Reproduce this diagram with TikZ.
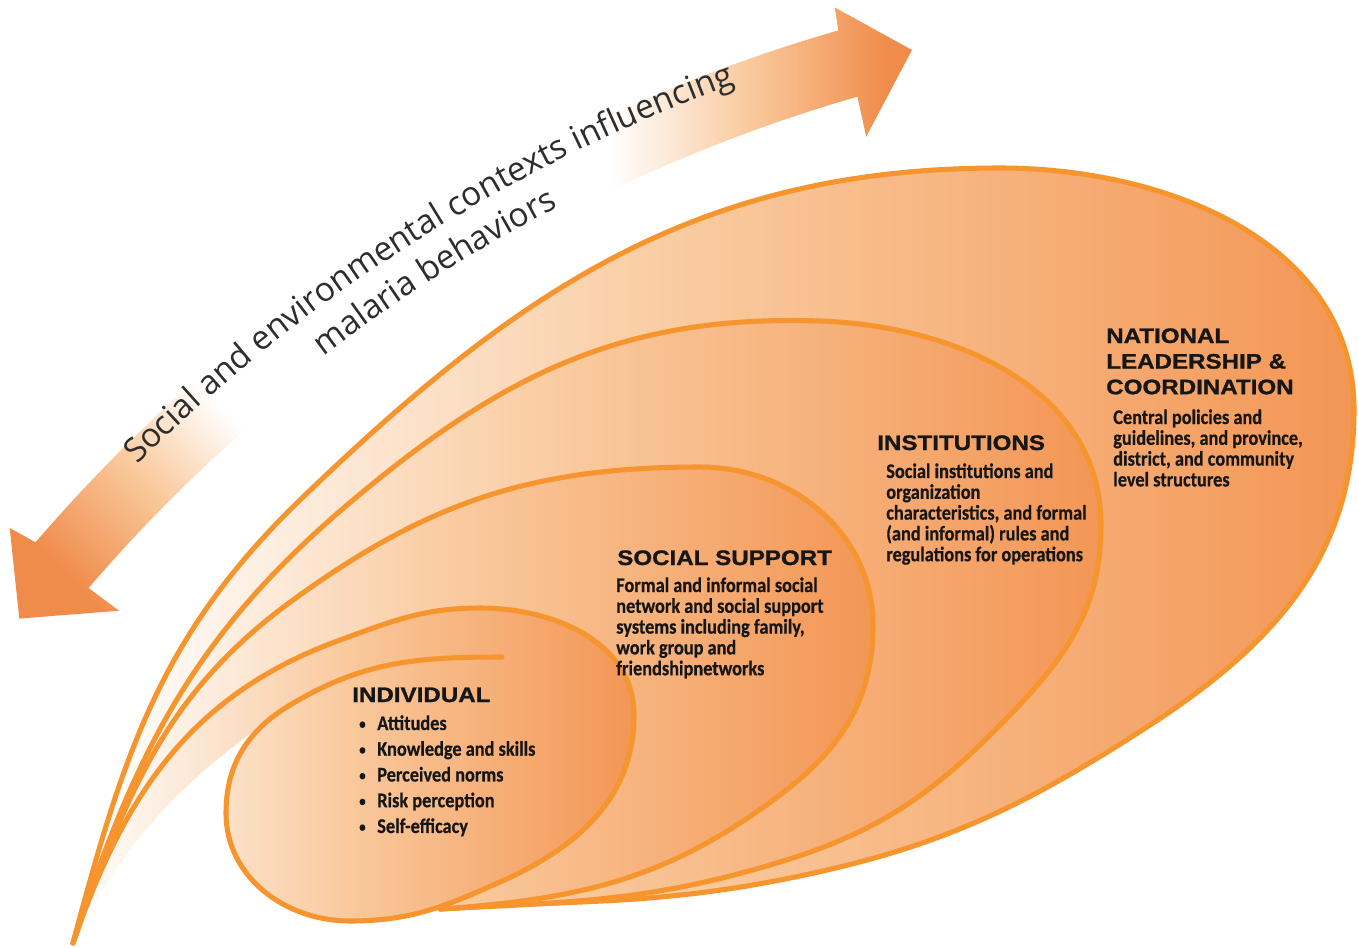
\documentclass[tikz,border=0pt]{standalone}
\usepackage{fontspec}
\usepackage{graphicx}
\usetikzlibrary{decorations.text}

% fonts
\newfontfamily\headfont[FakeStretch=1.15, FakeBold=1.2]{Liberation Sans}
\newfontfamily\bodyfont[FakeStretch=0.88, FakeBold=0.5]{Carlito}
\newfontfamily\arcfont{Open Sans}

% colours
\definecolor{swline}{RGB}{246,148,45}
\definecolor{swmid}{RGB}{249,200,155}
\definecolor{swdark}{RGB}{243,150,85}
\definecolor{arrdark}{RGB}{240,140,75}
\definecolor{ink}{RGB}{22,22,22}
\definecolor{arcink}{RGB}{45,45,45}

% gradients
\pgfdeclarehorizontalshading{swoosh}{100bp}{color(0bp)=(white); color(25bp)=(white); color(50bp)=(swmid); color(75bp)=(swdark); color(100bp)=(swdark)}
\pgfdeclarehorizontalshading{arrowright}{100bp}{color(0bp)=(white); color(39bp)=(white); color(56bp)=(swmid); color(72bp)=(arrdark); color(100bp)=(arrdark)}
\pgfdeclareverticalshading{arrowleft}{100bp}{color(0bp)=(arrdark); color(26bp)=(arrdark); color(46bp)=(swmid); color(64bp)=(white); color(100bp)=(white)}

\newcommand{\bul}{\makebox[13.5pt][l]{\raisebox{0.12ex}{\scalebox{0.7}{\textbullet}}}}

\begin{document}
\begin{tikzpicture}[x=0.75pt,y=-0.75pt,
  swedge/.style={draw=swline, line width=3.8pt, line cap=round, line join=round},
  swfill/.style={shading=swoosh},
  head/.style={anchor=base west, inner sep=0pt, text=ink,
    font=\headfont\bfseries\fontsize{15.75}{19.2}\selectfont},
  body/.style={anchor=base west, inner sep=0pt, text=ink,
    font=\bodyfont\bfseries\fontsize{15.6}{15.6}\selectfont},
  listbody/.style={anchor=base west, inner sep=0pt, text=ink,
    font=\bodyfont\bfseries\fontsize{15.6}{19.3}\selectfont},
  arctext/.style={decorate, decoration={text along path, text align=center,
    text={|\arcfont\fontsize{25}{30}\selectfont\color{arcink}|#1}}}
]
\useasboundingbox (0,0) rectangle (1359,947);
\coordinate (tip) at (73,943);

% ---------- curved double arrow ----------
\shade[shading=arrowright]
  plot[domain=241:253.9, samples=30] ({1300+1665*cos(\x)},{1630+1665*sin(\x)})
  -- ({1300+1688*cos(254)},{1630+1688*sin(254)})
  -- ({1300+1627*cos(256.2)},{1630+1627*sin(256.2)})
  -- ({1300+1555*cos(253.8)},{1630+1555*sin(253.8)})
  -- plot[domain=253.9:241, samples=30] ({1300+1596*cos(\x)},{1630+1596*sin(\x)})
  -- cycle;
\shade[shading=arrowleft, shading angle=-45]
  plot[domain=232:220.7, samples=30] ({1300+1668*cos(\x)},{1630+1668*sin(\x)})
  -- ({1300+1697*cos(220.5)},{1630+1697*sin(220.5)})
  -- ({1300+1632*cos(218.3)},{1630+1632*sin(218.3)})
  -- ({1300+1560*cos(220.8)},{1630+1560*sin(220.8)})
  -- plot[domain=220.7:232, samples=30] ({1300+1598*cos(\x)},{1630+1598*sin(\x)})
  -- cycle;

\path[arctext={Social and environmental contexts influencing}]
  plot[domain=220:255, samples=90] ({1300+1646*cos(\x)},{1630+1646*sin(\x)});
\path[arctext={malaria behaviors}]
  plot[domain=220:255, samples=90] ({1300+1605*cos(\x)},{1630+1605*sin(\x)});

% ---------- national leadership swoosh ----------
\shade[swfill] (tip) to[out=75,in=224] (300,500) to[out=44,in=180] (1000,168)
  to[out=0,in=90] (1354,410) to[out=-90,in=33] (1150,725)
  to[out=213,in=11] (780,880) to[out=191,in=4] (440,909)
  -- (430,760) -- (420,640) -- (340,645) to[out=200,in=71] (tip) -- cycle;
\draw[swedge] (tip) to[out=75,in=224] (300,500) to[out=44,in=180] (1000,168)
  to[out=0,in=90] (1354,410) to[out=-90,in=33] (1150,725)
  to[out=213,in=11] (780,880) to[out=191,in=4] (440,909);

% ---------- institutions swoosh ----------
\shade[swfill] (tip) to[out=72,in=220] (353,500) to[out=40,in=178] (820,321)
  to[out=-2,in=90] (1101,525) to[out=-90,in=46] (1010,715)
  to[out=226,in=17] (780,862) to[out=197,in=3] (440,909)
  -- (430,760) -- (420,640) -- (340,645) to[out=200,in=71] (tip) -- cycle;
\draw[swedge] (tip) to[out=72,in=220] (353,500) to[out=40,in=178] (820,321)
  to[out=-2,in=90] (1101,525) to[out=-90,in=46] (1010,715)
  to[out=226,in=17] (780,862) to[out=197,in=3] (440,909);

% ---------- social support swoosh ----------
\shade[swfill] (tip) to[out=70,in=216] (293,600) to[out=36,in=180] (700,467)
  to[out=0,in=90] (873,625) to[out=-90,in=37] (780,795)
  to[out=217,in=4] (440,909)
  -- (430,760) -- (420,640) -- (340,645) to[out=200,in=71] (tip) -- cycle;
\draw[swedge] (tip) to[out=70,in=216] (293,600) to[out=36,in=180] (700,467)
  to[out=0,in=90] (873,625) to[out=-90,in=37] (780,795)
  to[out=217,in=4] (440,909);

% ---------- individual swoosh (spiral) ----------
\shade[swfill] (tip) to[out=71,in=200] (340,640) to[out=20,in=180] (480,608)
  to[out=0,in=90] (634,715) to[out=-90,in=24] (500,882)
  to[out=204,in=0] (350,921) to[out=180,in=-90] (226,813)
  to[out=90,in=211] (287,707) to[out=215,in=63] (tip) -- cycle;
\draw[swedge] (tip) to[out=71,in=200] (340,640) to[out=20,in=180] (480,608)
  to[out=0,in=90] (634,715) to[out=-90,in=24] (500,882)
  to[out=204,in=0] (350,921) to[out=180,in=-90] (226,813)
  to[out=90,in=211] (290,705) to[out=31,in=180] (502,657);

% ---------- labels ----------
\node[head] (indhead) at (352,702) {INDIVIDUAL};
\node[listbody] (indlist) at (359,730) {\parbox[t]{220pt}{%
  \bul Attitudes\\
  \bul Knowledge and skills\\
  \bul Perceived norms\\
  \bul Risk perception\\
  \bul Self-efficacy}};

\node[head] (sshead) at (617,565) {SOCIAL SUPPORT};
\node[body] (ssbody) at (616,592) {\parbox[t]{220pt}{%
  Formal and informal social\\
  network and social support\\
  systems including family,\\
  work group and\\
  friendshipnetworks}};

\node[head] (insthead) at (877,450) {INSTITUTIONS};
\node[body] (instbody) at (886,478) {\parbox[t]{220pt}{%
  Social institutions and\\
  organization\\
  characteristics, and formal\\
  (and informal) rules and\\
  regulations for operations}};

\node[head] (nathead) at (1106,343) {\parbox[t]{220pt}{%
  NATIONAL\\
  LEADERSHIP \&\\
  COORDINATION}};
\node[body] (natbody) at (1113,424) {\parbox[t]{220pt}{%
  Central policies and\\
  guidelines, and province,\\
  district, and community\\
  level structures}};
\end{tikzpicture}
\end{document}
